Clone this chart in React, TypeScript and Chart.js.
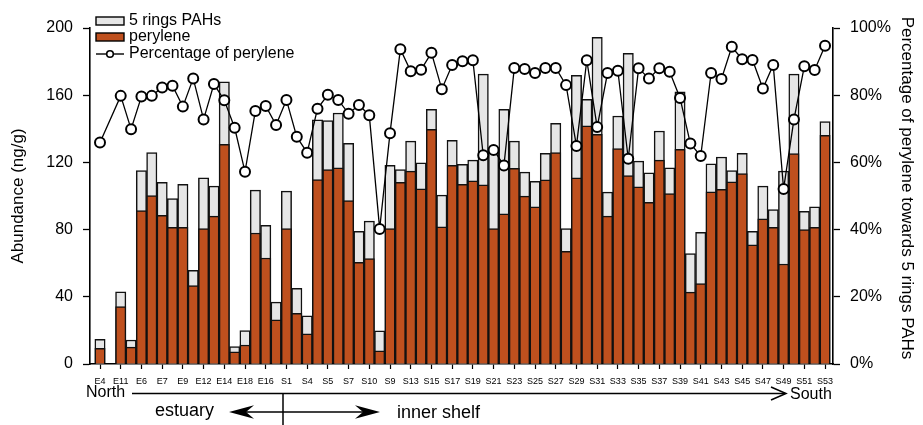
import React, { useEffect, useRef } from 'react';
import { Chart, registerables } from 'chart.js';

Chart.register(...registerables);

// Tick labels, one for every second slot (slot 0, 2, 4, ... 70)
const tickLabels = [
  'E4', 'E11', 'E6', 'E7', 'E9', 'E12', 'E14', 'E18', 'E16',
  'S1', 'S4', 'S5', 'S7', 'S10', 'S9', 'S13', 'S15', 'S17', 'S19', 'S21',
  'S23', 'S25', 'S27', 'S29', 'S31', 'S33', 'S35', 'S37', 'S39', 'S41',
  'S43', 'S45', 'S47', 'S49', 'S51', 'S53',
];

// Perylene abundance (ng/g), one value per slot (71 slots)
const perylene: (number | null)[] = [
  9.4, null, 34.2, 10, 91.3, 100.3, 88.5, 81.4, 81.4, 46.7,
  80.6, 88, 130.7, 7.3, 11.3, 78, 63.1, 26.3, 80.6, 30.2,
  17.9, 109.7, 115.8, 116.8, 97.3, 60.5, 62.7, 7.8, 80.6, 108.2,
  114.8, 104.3, 139.7, 81.6, 118.2, 106.9, 109, 106.7, 80.6, 89.4,
  116.4, 99.9, 93.5, 109.6, 125.8, 67, 110.8, 141.7, 136.7, 88,
  128.2, 112.2, 105.5, 96.3, 121.4, 101.4, 127.8, 42.8, 47.9, 102.5,
  103.9, 108.5, 113.4, 71, 86.4, 81.4, 59.5, 125.2, 80, 81.4,
  136.1,
];

// 5 rings PAHs abundance (ng/g)
const fiveRings: (number | null)[] = [
  14.7, null, 43, 14.3, 115.2, 125.8, 108.2, 98.5, 106.9, 55.7,
  110.8, 105.9, 168, 10.3, 19.9, 103.5, 82.6, 36.8, 102.9, 45,
  28.7, 145.3, 144.9, 149.4, 131.3, 79, 85, 19.7, 118.2, 115.8,
  132.7, 119.8, 151.6, 100.5, 133.1, 118.8, 121.4, 172.5, 126.5, 151.6,
  132.7, 114.2, 108.8, 125.4, 143.3, 80.6, 171.9, 157.6, 194.4, 102.3,
  147.6, 184.9, 120.8, 113.8, 138.7, 116.8, 162, 65.7, 78.4, 119.2,
  123.2, 115.2, 125.4, 79, 105.9, 91.9, 114.8, 172.5, 90.9, 93.5,
  144.3,
];

// Percentage of perylene towards 5 rings PAHs (%)
const percentage: (number | null)[] = [
  65.9, null, 79.8, 69.9, 79.6, 79.8, 82.3, 82.8, 76.6, 85,
  72.8, 83.3, 78.5, 70.3, 57.2, 75.3, 76.8, 71.1, 78.6, 67.6,
  62.9, 76.0, 80.1, 78.6, 74.5, 77.1, 74.0, 40.2, 68.7, 93.7,
  87.1, 87.6, 92.6, 81.8, 89, 90.1, 90.4, 62.1, 63.7, 59.1,
  88.1, 87.8, 86.6, 88.1, 88.1, 83, 64.9, 90.4, 70.5, 86.6,
  87.3, 61.1, 88, 85, 88, 87, 79.2, 65.6, 61.9, 86.6,
  84.8, 94.4, 90.7, 90.5, 82, 89, 52.1, 72.8, 88.6, 87.5,
  94.7,
];

const FONT = "'Liberation Sans', Arial, Helvetica, sans-serif";
const ORANGE = '#BF501E';
const GRAY = '#E6E6E6';

export default function App() {
  const ref = useRef<HTMLCanvasElement>(null);

  useEffect(() => {
    if (!ref.current) return;
    const toXY = (arr: (number | null)[]) => arr.map((v, i) => ({ x: i, y: v }));

    const overlay = {
      id: 'overlay',
      afterDraw(chart: any) {
        const ctx: CanvasRenderingContext2D = chart.ctx;
        ctx.save();
        ctx.fillStyle = '#000';
        ctx.strokeStyle = '#000';

        // Legend
        ctx.lineWidth = 1.4;
        ctx.fillStyle = GRAY;
        ctx.fillRect(96, 17, 28, 8);
        ctx.strokeRect(96, 17, 28, 8);
        ctx.fillStyle = ORANGE;
        ctx.fillRect(96, 33, 28, 8);
        ctx.strokeRect(96, 33, 28, 8);
        ctx.beginPath();
        ctx.moveTo(96, 54);
        ctx.lineTo(124, 54);
        ctx.stroke();
        ctx.beginPath();
        ctx.arc(110, 54, 3.3, 0, Math.PI * 2);
        ctx.fillStyle = '#fff';
        ctx.fill();
        ctx.lineWidth = 1.6;
        ctx.stroke();
        ctx.fillStyle = '#000';
        ctx.font = `16px ${FONT}`;
        ctx.textBaseline = 'middle';
        ctx.textAlign = 'left';
        ctx.fillText('5 rings PAHs', 129, 21);
        ctx.fillText('perylene', 129, 37);
        ctx.fillText('Percentage of perylene', 129, 54);

        // Axis titles
        ctx.font = `17px ${FONT}`;
        ctx.textAlign = 'center';
        ctx.save();
        ctx.translate(18, 196);
        ctx.rotate(-Math.PI / 2);
        ctx.fillText('Abundance (ng/g)', 0, 0);
        ctx.restore();
        ctx.save();
        ctx.translate(907, 188);
        ctx.rotate(Math.PI / 2);
        ctx.fillText('Percentage of perylene towards 5 rings PAHs', 0, 0);
        ctx.restore();

        // North - South arrow
        ctx.lineWidth = 1.5;
        ctx.beginPath();
        ctx.moveTo(132, 393.5);
        ctx.lineTo(785, 393.5);
        ctx.stroke();
        ctx.beginPath();
        ctx.moveTo(771, 387);
        ctx.lineTo(786, 393.5);
        ctx.lineTo(771, 400);
        ctx.stroke();
        ctx.beginPath();
        ctx.moveTo(283, 393.5);
        ctx.lineTo(283, 425);
        ctx.stroke();
        ctx.beginPath();
        ctx.moveTo(235, 412);
        ctx.lineTo(375, 412);
        ctx.stroke();
        const head = (tx: number, y: number, dir: number) => {
          ctx.beginPath();
          ctx.moveTo(tx, y);
          ctx.lineTo(tx - dir * 25, y - 6.7);
          ctx.lineTo(tx - dir * 17, y);
          ctx.lineTo(tx - dir * 25, y + 6.7);
          ctx.closePath();
          ctx.fill();
        };
        head(229, 412, -1);
        head(380, 412, 1);

        ctx.textAlign = 'left';
        ctx.font = `16px ${FONT}`;
        ctx.fillText('North', 86, 393);
        ctx.fillText('South', 790, 395);
        ctx.font = `18px ${FONT}`;
        ctx.fillText('estuary', 155, 411);
        ctx.fillText('inner shelf', 397, 413);
        ctx.restore();
      },
    };

    const chart = new Chart(ref.current, {
      type: 'bar',
      data: {
        datasets: [
          {
            type: 'line',
            label: 'Percentage of perylene',
            data: toXY(percentage),
            yAxisID: 'y1',
            xAxisID: 'x',
            borderColor: '#000',
            borderWidth: 1.3,
            pointRadius: 5,
            pointBorderWidth: 2,
            pointBackgroundColor: '#fff',
            pointBorderColor: '#000',
            spanGaps: true,
            tension: 0,
            order: 0,
          } as any,
          {
            type: 'bar',
            label: 'perylene',
            data: toXY(perylene),
            yAxisID: 'y',
            xAxisID: 'x',
            backgroundColor: ORANGE,
            borderColor: '#111',
            borderWidth: 1.5,
            grouped: false,
            barPercentage: 1,
            categoryPercentage: 1,
            order: 1,
          } as any,
          {
            type: 'bar',
            label: '5 rings PAHs',
            data: toXY(fiveRings),
            yAxisID: 'y',
            xAxisID: 'x',
            backgroundColor: GRAY,
            borderColor: '#111',
            borderWidth: 1.5,
            grouped: false,
            barPercentage: 1,
            categoryPercentage: 1,
            order: 2,
          } as any,
        ],
      },
      options: {
        responsive: false,
        animation: false,
        maintainAspectRatio: false,
        layout: { padding: { top: 28, left: 0, right: 0, bottom: 0 } },
        plugins: {
          legend: { display: false },
          tooltip: { enabled: false },
        },
        scales: {
          x: {
            type: 'linear',
            min: -0.9655,
            max: 70.77,
            offset: false,
            bounds: 'data',
            grid: {
              display: true,
              offset: false,
              drawOnChartArea: false,
              drawTicks: true,
              tickLength: 5,
              tickColor: '#000',
              tickWidth: 1.2,
            },
            border: { display: true, color: '#000', width: 1.6 },
            afterBuildTicks: (axis: any) => {
              axis.ticks = tickLabels.map((_, i) => ({ value: i * 2 }));
            },
            afterFit: (axis: any) => {
              axis.height = 61;
            },
            ticks: {
              autoSkip: false,
              maxRotation: 0,
              minRotation: 0,
              padding: 7,
              color: '#000',
              font: { family: FONT, size: 9 },
              callback: (_v: any, i: number) => tickLabels[i],
            },
          },
          y: {
            type: 'linear',
            position: 'left',
            min: 0,
            max: 200,
            grid: {
              display: true,
              drawOnChartArea: false,
              drawTicks: true,
              tickLength: 7,
              tickColor: '#000',
              tickWidth: 1.3,
            },
            border: { display: true, color: '#000', width: 1.6 },
            afterFit: (axis: any) => {
              axis.width = 90;
            },
            ticks: {
              stepSize: 40,
              padding: 10,
              color: '#000',
              font: { family: FONT, size: 16 },
            },
          },
          y1: {
            type: 'linear',
            position: 'right',
            min: 0,
            max: 100,
            grid: {
              display: true,
              drawOnChartArea: false,
              drawTicks: true,
              tickLength: 7,
              tickColor: '#000',
              tickWidth: 1.3,
            },
            border: { display: true, color: '#000', width: 1.6 },
            afterFit: (axis: any) => {
              axis.width = 90;
            },
            ticks: {
              stepSize: 20,
              padding: 10,
              color: '#000',
              font: { family: FONT, size: 16 },
              callback: (v: any) => `${v}%`,
            },
          },
        },
      } as any,
      plugins: [overlay],
    });

    return () => chart.destroy();
  }, []);

  return (
    <div style={{ position: 'fixed', left: 0, top: 0, width: 923, height: 425, background: '#fff' }}>
      <canvas ref={ref} width={923} height={425} style={{ width: 923, height: 425, display: 'block' }} />
    </div>
  );
}
